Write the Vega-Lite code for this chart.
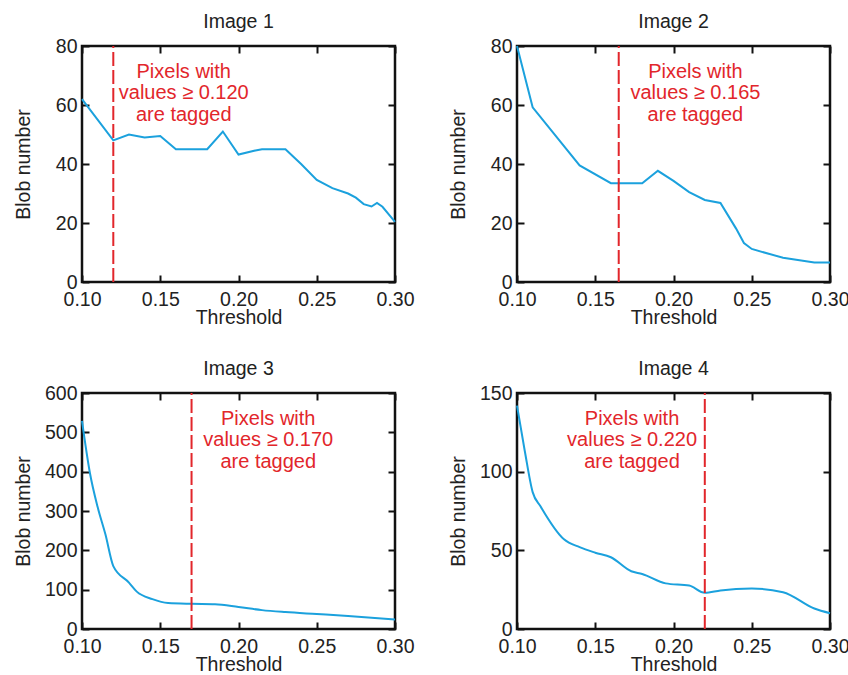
{
  "$schema": "https://vega.github.io/schema/vega-lite/v6.json",
  "padding": {"left": 11, "top": 10, "right": 5, "bottom": 5},
  "background": "white",
  "datasets": {
    "curves": [
      {"p": 1, "t": 0.10, "n": 62}, {"p": 1, "t": 0.12, "n": 48}, {"p": 1, "t": 0.13, "n": 50}, {"p": 1, "t": 0.14, "n": 49}, {"p": 1, "t": 0.15, "n": 49.5},
      {"p": 1, "t": 0.16, "n": 45}, {"p": 1, "t": 0.18, "n": 45}, {"p": 1, "t": 0.19, "n": 51}, {"p": 1, "t": 0.20, "n": 43.2}, {"p": 1, "t": 0.21, "n": 44.5},
      {"p": 1, "t": 0.215, "n": 45}, {"p": 1, "t": 0.23, "n": 45}, {"p": 1, "t": 0.24, "n": 40}, {"p": 1, "t": 0.25, "n": 34.6}, {"p": 1, "t": 0.26, "n": 31.8},
      {"p": 1, "t": 0.27, "n": 30}, {"p": 1, "t": 0.275, "n": 28.6}, {"p": 1, "t": 0.28, "n": 26.4}, {"p": 1, "t": 0.285, "n": 25.6}, {"p": 1, "t": 0.2885, "n": 26.8},
      {"p": 1, "t": 0.292, "n": 25.5}, {"p": 1, "t": 0.30, "n": 20.4},
      {"p": 2, "t": 0.10, "n": 80}, {"p": 2, "t": 0.11, "n": 59.2}, {"p": 2, "t": 0.14, "n": 39.5}, {"p": 2, "t": 0.16, "n": 33.5}, {"p": 2, "t": 0.18, "n": 33.5},
      {"p": 2, "t": 0.19, "n": 37.7}, {"p": 2, "t": 0.20, "n": 34.3}, {"p": 2, "t": 0.21, "n": 30.5}, {"p": 2, "t": 0.22, "n": 27.8}, {"p": 2, "t": 0.23, "n": 26.8},
      {"p": 2, "t": 0.24, "n": 18.1}, {"p": 2, "t": 0.245, "n": 13.2}, {"p": 2, "t": 0.25, "n": 11.2}, {"p": 2, "t": 0.27, "n": 8.2}, {"p": 2, "t": 0.29, "n": 6.6},
      {"p": 2, "t": 0.30, "n": 6.6},
      {"p": 3, "t": 0.10, "n": 529}, {"p": 3, "t": 0.105, "n": 398}, {"p": 3, "t": 0.11, "n": 310}, {"p": 3, "t": 0.115, "n": 240}, {"p": 3, "t": 0.12, "n": 160},
      {"p": 3, "t": 0.13, "n": 118}, {"p": 3, "t": 0.135, "n": 95}, {"p": 3, "t": 0.145, "n": 76}, {"p": 3, "t": 0.155, "n": 66}, {"p": 3, "t": 0.17, "n": 64},
      {"p": 3, "t": 0.185, "n": 63}, {"p": 3, "t": 0.20, "n": 56}, {"p": 3, "t": 0.215, "n": 48}, {"p": 3, "t": 0.23, "n": 43}, {"p": 3, "t": 0.25, "n": 38},
      {"p": 3, "t": 0.27, "n": 33}, {"p": 3, "t": 0.30, "n": 24},
      {"p": 4, "t": 0.10, "n": 142}, {"p": 4, "t": 0.105, "n": 113}, {"p": 4, "t": 0.11, "n": 87}, {"p": 4, "t": 0.115, "n": 78}, {"p": 4, "t": 0.13, "n": 57},
      {"p": 4, "t": 0.14, "n": 52}, {"p": 4, "t": 0.15, "n": 48.5}, {"p": 4, "t": 0.16, "n": 45.6}, {"p": 4, "t": 0.173, "n": 36.7}, {"p": 4, "t": 0.18, "n": 35},
      {"p": 4, "t": 0.195, "n": 29}, {"p": 4, "t": 0.21, "n": 27.6}, {"p": 4, "t": 0.22, "n": 23}, {"p": 4, "t": 0.23, "n": 24.5}, {"p": 4, "t": 0.25, "n": 25.7},
      {"p": 4, "t": 0.27, "n": 23.4}, {"p": 4, "t": 0.29, "n": 13}, {"p": 4, "t": 0.30, "n": 10}
    ],
    "marks": [
      {"p": 1, "xv": 0.12, "y0": 0, "ymax": 80, "tx": 0.165, "ty": 71.2, "label": "Pixels with\nvalues ≥ 0.120\nare tagged"},
      {"p": 2, "xv": 0.165, "y0": 0, "ymax": 80, "tx": 0.214, "ty": 71.2, "label": "Pixels with\nvalues ≥ 0.165\nare tagged"},
      {"p": 3, "xv": 0.17, "y0": 0, "ymax": 600, "tx": 0.219, "ty": 534, "label": "Pixels with\nvalues ≥ 0.170\nare tagged"},
      {"p": 4, "xv": 0.22, "y0": 0, "ymax": 150, "tx": 0.1735, "ty": 133.5, "label": "Pixels with\nvalues ≥ 0.220\nare tagged"}
    ]
  },
  "columns": 2,
  "bounds": "flush",
  "spacing": {"column": 122, "row": 111},
  "concat": [
    {
      "title": {"text": "Image 1"},
      "width": 313, "height": 236,
      "layer": [
        {"data": {"name": "curves"}, "transform": [{"filter": "datum.p == 1"}], "mark": {"type": "line", "color": "#1ba1dd", "strokeWidth": 2},
         "encoding": {
           "x": {"field": "t", "type": "quantitative", "scale": {"domain": [0.1, 0.3], "nice": false}, "axis": {"orient": "bottom", "title": "Threshold", "values": [0.1, 0.15, 0.2, 0.25, 0.3], "format": ".2f"}},
           "y": {"field": "n", "type": "quantitative", "scale": {"domain": [0, 80], "nice": false}, "axis": {"orient": "left", "title": "Blob number", "values": [0, 20, 40, 60, 80]}}}},
        {"data": {"name": "marks"}, "transform": [{"filter": "datum.p == 1"}], "mark": {"type": "rule", "color": "#e2262b", "strokeWidth": 2, "strokeDash": [14, 4]},
         "encoding": {
           "x": {"field": "xv", "type": "quantitative", "scale": {"domain": [0.1, 0.3], "nice": false}, "axis": {"orient": "top", "labels": false, "title": null, "values": [0.1, 0.15, 0.2, 0.25, 0.3]}},
           "y": {"field": "y0", "type": "quantitative", "scale": {"domain": [0, 80], "nice": false}, "axis": {"orient": "right", "labels": false, "title": null, "values": [0, 20, 40, 60, 80]}},
           "y2": {"field": "ymax"}}},
        {"data": {"name": "marks"}, "transform": [{"filter": "datum.p == 1"}], "mark": {"type": "text", "color": "#e2262b", "fontSize": 20, "lineBreak": "\n", "lineHeight": 21.5, "align": "center", "baseline": "middle"},
         "encoding": {"x": {"field": "tx", "type": "quantitative", "scale": {"domain": [0.1, 0.3], "nice": false}, "axis": null}, "y": {"field": "ty", "type": "quantitative", "scale": {"domain": [0, 80], "nice": false}, "axis": null}, "text": {"field": "label"}}}
      ],
      "resolve": {"axis": {"x": "independent", "y": "independent"}}
    },
    {
      "title": {"text": "Image 2"},
      "width": 313, "height": 236,
      "layer": [
        {"data": {"name": "curves"}, "transform": [{"filter": "datum.p == 2"}], "mark": {"type": "line", "color": "#1ba1dd", "strokeWidth": 2},
         "encoding": {
           "x": {"field": "t", "type": "quantitative", "scale": {"domain": [0.1, 0.3], "nice": false}, "axis": {"orient": "bottom", "title": "Threshold", "values": [0.1, 0.15, 0.2, 0.25, 0.3], "format": ".2f"}},
           "y": {"field": "n", "type": "quantitative", "scale": {"domain": [0, 80], "nice": false}, "axis": {"orient": "left", "title": "Blob number", "values": [0, 20, 40, 60, 80]}}}},
        {"data": {"name": "marks"}, "transform": [{"filter": "datum.p == 2"}], "mark": {"type": "rule", "color": "#e2262b", "strokeWidth": 2, "strokeDash": [14, 4]},
         "encoding": {
           "x": {"field": "xv", "type": "quantitative", "scale": {"domain": [0.1, 0.3], "nice": false}, "axis": {"orient": "top", "labels": false, "title": null, "values": [0.1, 0.15, 0.2, 0.25, 0.3]}},
           "y": {"field": "y0", "type": "quantitative", "scale": {"domain": [0, 80], "nice": false}, "axis": {"orient": "right", "labels": false, "title": null, "values": [0, 20, 40, 60, 80]}},
           "y2": {"field": "ymax"}}},
        {"data": {"name": "marks"}, "transform": [{"filter": "datum.p == 2"}], "mark": {"type": "text", "color": "#e2262b", "fontSize": 20, "lineBreak": "\n", "lineHeight": 21.5, "align": "center", "baseline": "middle"},
         "encoding": {"x": {"field": "tx", "type": "quantitative", "scale": {"domain": [0.1, 0.3], "nice": false}, "axis": null}, "y": {"field": "ty", "type": "quantitative", "scale": {"domain": [0, 80], "nice": false}, "axis": null}, "text": {"field": "label"}}}
      ],
      "resolve": {"axis": {"x": "independent", "y": "independent"}}
    },
    {
      "title": {"text": "Image 3"},
      "width": 313, "height": 236,
      "layer": [
        {"data": {"name": "curves"}, "transform": [{"filter": "datum.p == 3"}], "mark": {"type": "line", "color": "#1ba1dd", "strokeWidth": 2, "interpolate": "monotone"},
         "encoding": {
           "x": {"field": "t", "type": "quantitative", "scale": {"domain": [0.1, 0.3], "nice": false}, "axis": {"orient": "bottom", "title": "Threshold", "values": [0.1, 0.15, 0.2, 0.25, 0.3], "format": ".2f"}},
           "y": {"field": "n", "type": "quantitative", "scale": {"domain": [0, 600], "nice": false}, "axis": {"orient": "left", "title": "Blob number", "values": [0, 100, 200, 300, 400, 500, 600]}}}},
        {"data": {"name": "marks"}, "transform": [{"filter": "datum.p == 3"}], "mark": {"type": "rule", "color": "#e2262b", "strokeWidth": 2, "strokeDash": [14, 4]},
         "encoding": {
           "x": {"field": "xv", "type": "quantitative", "scale": {"domain": [0.1, 0.3], "nice": false}, "axis": {"orient": "top", "labels": false, "title": null, "values": [0.1, 0.15, 0.2, 0.25, 0.3]}},
           "y": {"field": "y0", "type": "quantitative", "scale": {"domain": [0, 600], "nice": false}, "axis": {"orient": "right", "labels": false, "title": null, "values": [0, 100, 200, 300, 400, 500, 600]}},
           "y2": {"field": "ymax"}}},
        {"data": {"name": "marks"}, "transform": [{"filter": "datum.p == 3"}], "mark": {"type": "text", "color": "#e2262b", "fontSize": 20, "lineBreak": "\n", "lineHeight": 21.5, "align": "center", "baseline": "middle"},
         "encoding": {"x": {"field": "tx", "type": "quantitative", "scale": {"domain": [0.1, 0.3], "nice": false}, "axis": null}, "y": {"field": "ty", "type": "quantitative", "scale": {"domain": [0, 600], "nice": false}, "axis": null}, "text": {"field": "label"}}}
      ],
      "resolve": {"axis": {"x": "independent", "y": "independent"}}
    },
    {
      "title": {"text": "Image 4"},
      "width": 313, "height": 236,
      "layer": [
        {"data": {"name": "curves"}, "transform": [{"filter": "datum.p == 4"}], "mark": {"type": "line", "color": "#1ba1dd", "strokeWidth": 2, "interpolate": "monotone"},
         "encoding": {
           "x": {"field": "t", "type": "quantitative", "scale": {"domain": [0.1, 0.3], "nice": false}, "axis": {"orient": "bottom", "title": "Threshold", "values": [0.1, 0.15, 0.2, 0.25, 0.3], "format": ".2f"}},
           "y": {"field": "n", "type": "quantitative", "scale": {"domain": [0, 150], "nice": false}, "axis": {"orient": "left", "title": "Blob number", "values": [0, 50, 100, 150]}}}},
        {"data": {"name": "marks"}, "transform": [{"filter": "datum.p == 4"}], "mark": {"type": "rule", "color": "#e2262b", "strokeWidth": 2, "strokeDash": [14, 4]},
         "encoding": {
           "x": {"field": "xv", "type": "quantitative", "scale": {"domain": [0.1, 0.3], "nice": false}, "axis": {"orient": "top", "labels": false, "title": null, "values": [0.1, 0.15, 0.2, 0.25, 0.3]}},
           "y": {"field": "y0", "type": "quantitative", "scale": {"domain": [0, 150], "nice": false}, "axis": {"orient": "right", "labels": false, "title": null, "values": [0, 50, 100, 150]}},
           "y2": {"field": "ymax"}}},
        {"data": {"name": "marks"}, "transform": [{"filter": "datum.p == 4"}], "mark": {"type": "text", "color": "#e2262b", "fontSize": 20, "lineBreak": "\n", "lineHeight": 21.5, "align": "center", "baseline": "middle"},
         "encoding": {"x": {"field": "tx", "type": "quantitative", "scale": {"domain": [0.1, 0.3], "nice": false}, "axis": null}, "y": {"field": "ty", "type": "quantitative", "scale": {"domain": [0, 150], "nice": false}, "axis": null}, "text": {"field": "label"}}}
      ],
      "resolve": {"axis": {"x": "independent", "y": "independent"}}
    }
  ],
  "config": {
    "font": "Liberation Sans",
    "view": {"stroke": "#111", "strokeWidth": 2.5},
    "title": {"fontSize": 19.5, "fontWeight": "normal", "color": "#222", "offset": 4, "anchor": "middle"},
    "axis": {
      "grid": false, "domain": false, "labelFlush": false, "labelOverlap": false, "labelBound": false,
      "tickSize": -7, "tickColor": "#111", "tickWidth": 2,
      "labelFontSize": 19.5, "labelColor": "#222",
      "titleFontSize": 19.5, "titleFontWeight": "normal", "titleColor": "#222", "titlePadding": 0
    },
    "axisBottom": {"labelPadding": 15},
    "axisLeft": {"labelPadding": 12, "titleX": -49},
    "text": {"font": "Liberation Sans"}
  }
}
